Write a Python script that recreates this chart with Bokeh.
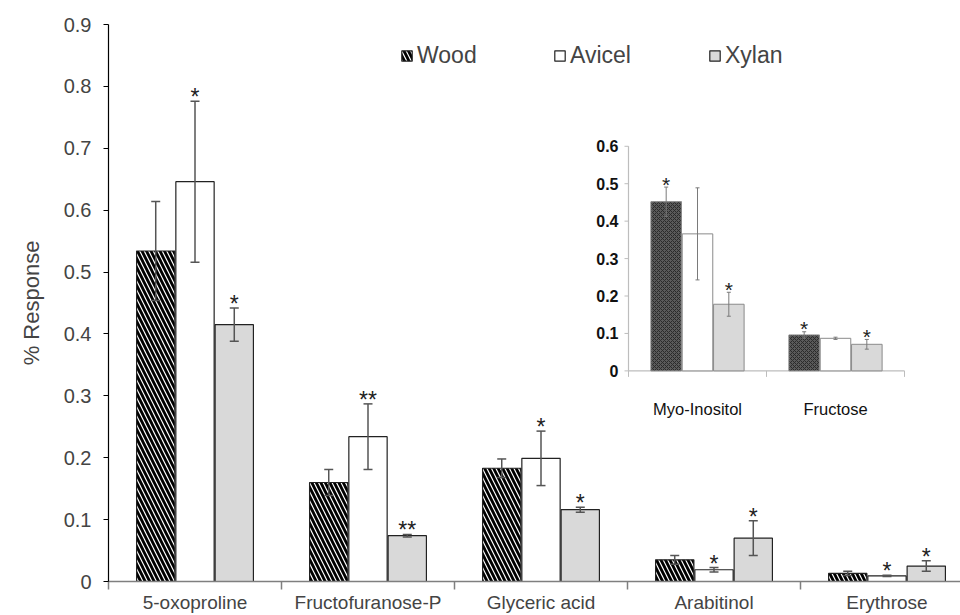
import numpy as np
from bokeh.plotting import figure
from bokeh.models import (Range1d, FixedTicker, CustomJSTickFormatter, Whisker, TeeHead,
                          ColumnDataSource, Legend, LegendItem, LinearAxis)
from bokeh.core.properties import value
from bokeh.embed import file_html
from bokeh.resources import INLINE

# ---------------- data ----------------
categories = ["5-oxoproline", "Fructofuranose-P", "Glyceric acid", "Arabitinol", "Erythrose"]
wood_mean = [0.534, 0.160, 0.183, 0.035, 0.013]
wood_err = [0.080, 0.021, 0.015, 0.007, 0.0035]
avicel_mean = [0.646, 0.234, 0.199, 0.019, 0.009]
avicel_err = [0.130, 0.053, 0.044, 0.0035, 0.001]
xylan_mean = [0.415, 0.074, 0.116, 0.070, 0.025]
xylan_err = [0.027, 0.002, 0.004, 0.028, 0.0085]
wood_sig = ["", "", "", "", ""]
avicel_sig = ["*", "**", "*", "*", "*"]
xylan_sig = ["*", "**", "*", "*", "*"]
series_names = ["Wood", "Avicel", "Xylan"]
y_ticks = [0, 0.1, 0.2, 0.3, 0.4, 0.5, 0.6, 0.7, 0.8, 0.9]

inset_categories = ["Myo-Inositol", "Fructose"]
inset_wood_mean = [0.452, 0.096]
inset_wood_err = [0.039, 0.0085]
inset_avicel_mean = [0.366, 0.087]
inset_avicel_err = [0.123, 0.003]
inset_xylan_mean = [0.178, 0.071]
inset_xylan_err = [0.032, 0.013]
inset_wood_sig = ["*", "*"]
inset_avicel_sig = ["", ""]
inset_xylan_sig = ["*", "*"]
inset_y_ticks = [0, 0.1, 0.2, 0.3, 0.4, 0.5, 0.6]

# ---------------- layout ----------------
W, H = 960, 615
BL, BT, BB = 108, 24, 33
frame_w = W - BL
frame_h = H - BT - BB
cat_px = 173.0
offsets = [0.273, 0.5, 0.727]
bar_w = 0.2214

# inset placement (screen px relative to frame bottom-left)
inset_x0_px, inset_cat_px = 520.0, 138.0
inset_y0_px, inset_unit_px = 211.0, 375.0

FONT = "Liberation Sans"

p = figure(width=W, height=H, output_backend="svg", toolbar_location=None,
           x_range=Range1d(0, frame_w / cat_px), y_range=Range1d(0, 0.9),
           min_border_left=BL, min_border_right=0, min_border_top=BT, min_border_bottom=BB,
           x_axis_type=None, y_axis_type=None)
p.outline_line_color = None
p.xgrid.visible = False
p.ygrid.visible = False
p.background_fill_color = "white"

p.extra_x_ranges = {"ix": Range1d(-inset_x0_px / inset_cat_px, (frame_w - inset_x0_px) / inset_cat_px)}
p.extra_y_ranges = {"iy": Range1d(-inset_y0_px / inset_unit_px, (frame_h - inset_y0_px) / inset_unit_px)}

# axes
yaxis = LinearAxis(ticker=FixedTicker(ticks=y_ticks, minor_ticks=[]),
                   formatter=CustomJSTickFormatter(code="return Math.abs(tick) < 1e-9 ? '0' : tick.toFixed(1);"))
yaxis.axis_label = "% Response"
yaxis.axis_label_text_font = FONT
yaxis.axis_label_text_font_size = "22px"
yaxis.axis_label_text_font_style = "normal"
yaxis.axis_label_standoff = 17
yaxis.major_label_text_font = FONT
yaxis.major_label_text_font_size = "20px"
yaxis.major_label_standoff = 12
yaxis.major_tick_out = 5
yaxis.major_tick_in = 0
yaxis.axis_line_color = "black"
yaxis.axis_line_width = 1.2
yaxis.major_tick_line_color = "black"
yaxis.major_tick_line_width = 1.2
p.add_layout(yaxis, "left")

n = len(categories)
xaxis = LinearAxis(ticker=FixedTicker(ticks=[i + 0.5 for i in range(n)], minor_ticks=list(range(n + 1))),
                   formatter=CustomJSTickFormatter(args=dict(labels=categories),
                                                  code="return labels[Math.floor(tick)] || '';"))
xaxis.major_label_text_font = FONT
xaxis.major_label_text_font_size = "19px"
xaxis.major_label_standoff = 2
xaxis.major_tick_line_color = None
xaxis.major_tick_out = 0
xaxis.major_tick_in = 0
xaxis.minor_tick_out = 8
xaxis.minor_tick_in = 0
xaxis.minor_tick_line_color = "#7f7f7f"
xaxis.minor_tick_line_width = 1.5
xaxis.axis_line_color = "#7f7f7f"
xaxis.axis_line_width = 1.5
p.add_layout(xaxis, "below")

styles = [
    dict(fill_color="white", hatch_pattern="left_diagonal_line", hatch_color="black",
         hatch_scale=9, hatch_weight=2.8),
    dict(fill_color="white"),
    dict(fill_color="#d9d9d9"),
]
main_data = [(wood_mean, wood_err, wood_sig), (avicel_mean, avicel_err, avicel_sig),
             (xylan_mean, xylan_err, xylan_sig)]

legend_renderers = []
for k, (means, errs, sig) in enumerate(main_data):
    xs = [i + offsets[k] for i in range(n)]
    src = ColumnDataSource(dict(x=xs, top=means,
                                upper=[m + e for m, e in zip(means, errs)],
                                lower=[m - e for m, e in zip(means, errs)],
                                sig=sig))
    r = p.vbar(x="x", top="top", bottom=0, width=bar_w, source=src,
               line_color="#222222", line_width=1.2, **styles[k])
    legend_renderers.append(r)
    p.add_layout(Whisker(source=src, base="x", upper="upper", lower="lower", dimension="height",
                         line_color="#555555", line_width=1.5, level="overlay",
                         upper_head=TeeHead(size=9, line_color="#555555", line_width=1.5),
                         lower_head=TeeHead(size=9, line_color="#555555", line_width=1.5)))
    p.text(x="x", y="upper", text="sig", source=src, text_align="center",
           text_baseline="alphabetic", y_offset=-4, text_font=value(FONT),
           text_font_size="23px", text_color="#222222")

# ---------------- inset ----------------
ni = len(inset_categories)
inset_styles = [
    dict(fill_color="#5a5a5a", hatch_pattern="diagonal_cross", hatch_color="#2a2a2a",
         hatch_scale=4, hatch_weight=1),
    dict(fill_color="white"),
    dict(fill_color="#d9d9d9"),
]
inset_data = [(inset_wood_mean, inset_wood_err, inset_wood_sig),
              (inset_avicel_mean, inset_avicel_err, inset_avicel_sig),
              (inset_xylan_mean, inset_xylan_err, inset_xylan_sig)]

# inset axes
p.segment(x0=[0, 0], y0=[0, 0], x1=[0, ni], y1=[inset_y_ticks[-1], 0],
          line_color="#bdbdbd", line_width=1.2, x_range_name="ix", y_range_name="iy")
p.ray(x=[0] * len(inset_y_ticks), y=inset_y_ticks, length=4, length_units="screen",
      angle=np.pi, line_color="#bdbdbd", line_width=1, x_range_name="ix", y_range_name="iy")
p.ray(x=list(range(ni + 1)), y=[0] * (ni + 1), length=6, length_units="screen",
      angle=-np.pi / 2, line_color="#bdbdbd", line_width=1, x_range_name="ix", y_range_name="iy")
p.text(x=[0] * len(inset_y_ticks), y=inset_y_ticks, text=[f"{t:g}" for t in inset_y_ticks],
       x_offset=-10, text_align="right", text_baseline="middle", text_font=value(FONT),
       text_font_style="bold", text_font_size="16px", text_color="#111111",
       x_range_name="ix", y_range_name="iy")
p.text(x=[i + 0.5 for i in range(ni)], y=[0] * ni, text=inset_categories,
       y_offset=38, text_align="center", text_baseline="alphabetic", text_font=value(FONT),
       text_font_size="16.5px", text_color="#111111", x_range_name="ix", y_range_name="iy")

for k, (means, errs, sig) in enumerate(inset_data):
    xs = [i + offsets[k] for i in range(ni)]
    src = ColumnDataSource(dict(x=xs, top=means,
                                upper=[m + e for m, e in zip(means, errs)],
                                lower=[m - e for m, e in zip(means, errs)],
                                sig=sig))
    p.vbar(x="x", top="top", bottom=0, width=bar_w, source=src, line_color="#8a8a8a",
           line_width=1, x_range_name="ix", y_range_name="iy", **inset_styles[k])
    p.add_layout(Whisker(source=src, base="x", upper="upper", lower="lower", dimension="height",
                         line_color="#7a7a7a", line_width=1, level="overlay",
                         upper_head=TeeHead(size=4, line_color="#7a7a7a", line_width=1),
                         lower_head=TeeHead(size=4, line_color="#7a7a7a", line_width=1),
                         x_range_name="ix", y_range_name="iy"))
    p.text(x="x", y="upper", text="sig", source=src, text_align="center",
           text_baseline="alphabetic", y_offset=-3, text_font=value(FONT),
           text_font_size="21px", text_color="#222222", x_range_name="ix", y_range_name="iy")

# ---------------- legend ----------------
legend_x = [292, 445, 600]
for r, name, lx in zip(legend_renderers, series_names, legend_x):
    leg = Legend(items=[LegendItem(label=name, renderers=[r])], location=(lx, 512),
                 orientation="horizontal", padding=0, margin=0, spacing=0,
                 border_line_alpha=0, background_fill_alpha=0,
                 glyph_width=13, glyph_height=13, label_standoff=4,
                 label_text_font=FONT, label_text_font_size="23px", label_height=24)
    p.add_layout(leg)

with open("out.html", "w") as f:
    f.write(file_html(p, INLINE))
